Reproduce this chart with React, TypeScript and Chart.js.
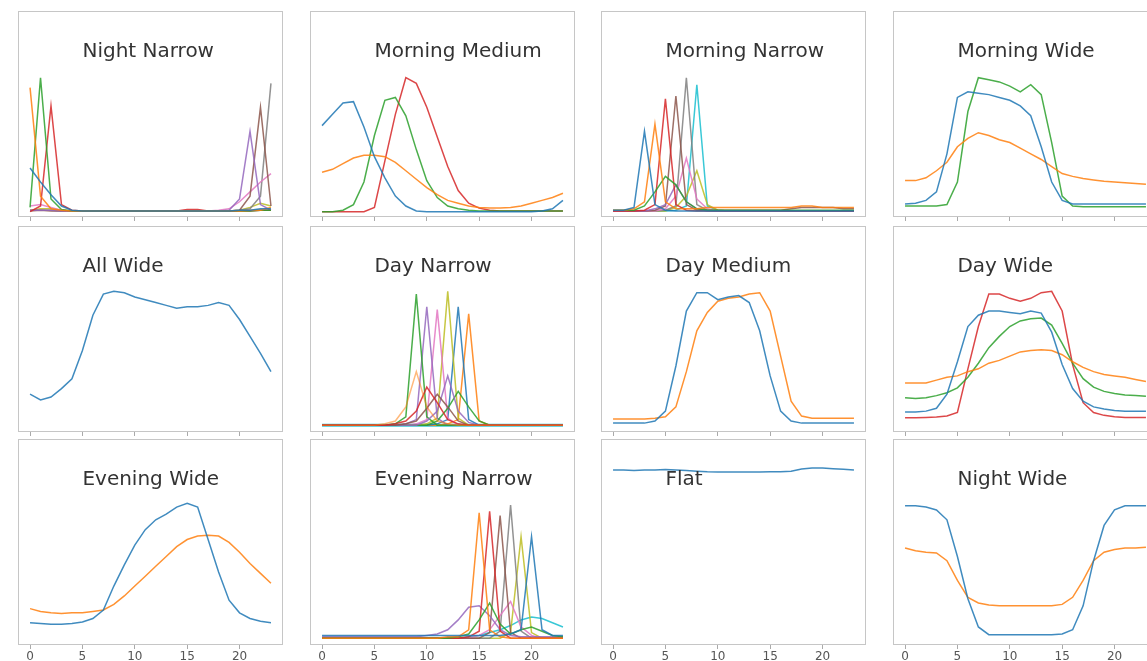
import React, { useEffect, useRef } from "react";
import { Chart, registerables } from "chart.js";
Chart.register(...registerables);

// ---------------- data ----------------
const hours = [0, 1, 2, 3, 4, 5, 6, 7, 8, 9, 10, 11, 12, 13, 14, 15, 16, 17, 18, 19, 20, 21, 22, 23];
const xTicks = [0, 5, 10, 15, 20];
const titleX = 5;

// Night Narrow
const nnBlue = [
  0.32, 0.22, 0.13, 0.05, 0.02, 0.015,
  0.015, 0.015, 0.015, 0.015, 0.015, 0.015,
  0.015, 0.015, 0.015, 0.015, 0.015, 0.015,
  0.015, 0.015, 0.02, 0.02, 0.03, 0.03,
];
const nnOrange = [
  0.89, 0.12, 0.03, 0.02, 0.015, 0.015,
  0.015, 0.015, 0.015, 0.015, 0.015, 0.015,
  0.015, 0.015, 0.015, 0.015, 0.015, 0.015,
  0.015, 0.015, 0.015, 0.02, 0.02, 0.04,
];
const nnGreen = [
  0.04, 0.96, 0.1, 0.025, 0.015, 0.015,
  0.015, 0.015, 0.015, 0.015, 0.015, 0.015,
  0.015, 0.015, 0.015, 0.015, 0.015, 0.015,
  0.015, 0.015, 0.015, 0.015, 0.02, 0.02,
];
const nnRed = [
  0.01, 0.05, 0.76, 0.06, 0.02, 0.015,
  0.015, 0.015, 0.015, 0.015, 0.015, 0.015,
  0.015, 0.015, 0.015, 0.025, 0.025, 0.015,
  0.015, 0.015, 0.015, 0.015, 0.02, 0.02,
];
const nnPurple = [
  0.02, 0.02, 0.02, 0.015, 0.015, 0.015,
  0.015, 0.015, 0.015, 0.015, 0.015, 0.015,
  0.015, 0.015, 0.015, 0.015, 0.015, 0.015,
  0.015, 0.02, 0.1, 0.58, 0.06, 0.02,
];
const nnBrown = [
  0.015, 0.02, 0.015, 0.015, 0.015, 0.015,
  0.015, 0.015, 0.015, 0.015, 0.015, 0.015,
  0.015, 0.015, 0.015, 0.015, 0.015, 0.015,
  0.015, 0.015, 0.02, 0.12, 0.75, 0.05,
];
const nnPink = [
  0.05, 0.06, 0.04, 0.02, 0.015, 0.015,
  0.015, 0.015, 0.015, 0.015, 0.015, 0.015,
  0.015, 0.015, 0.015, 0.015, 0.015, 0.015,
  0.02, 0.03, 0.08, 0.15, 0.22, 0.28,
];
const nnGray = [
  0.02, 0.02, 0.02, 0.015, 0.015, 0.015,
  0.015, 0.015, 0.015, 0.015, 0.015, 0.015,
  0.015, 0.015, 0.015, 0.015, 0.015, 0.015,
  0.015, 0.015, 0.02, 0.03, 0.12, 0.92,
];
const nnOlive = [
  0.02, 0.03, 0.03, 0.02, 0.015, 0.015,
  0.015, 0.015, 0.015, 0.015, 0.015, 0.015,
  0.015, 0.015, 0.015, 0.015, 0.015, 0.015,
  0.015, 0.015, 0.02, 0.04, 0.07, 0.05,
];

// Morning Medium
const mmBlue = [
  0.62, 0.7, 0.78, 0.79, 0.61, 0.4,
  0.25, 0.12, 0.05, 0.015, 0.01, 0.01,
  0.01, 0.01, 0.01, 0.01, 0.01, 0.01,
  0.01, 0.01, 0.01, 0.015, 0.03, 0.09,
];
const mmOrange = [
  0.29, 0.31, 0.35, 0.39, 0.41, 0.41,
  0.4, 0.36, 0.3, 0.24, 0.18, 0.13,
  0.09, 0.07, 0.05, 0.04, 0.035, 0.035,
  0.04, 0.05, 0.07, 0.09, 0.11, 0.14,
];
const mmGreen = [
  0.01, 0.01, 0.02, 0.06, 0.22, 0.55,
  0.8, 0.82, 0.69, 0.45, 0.23, 0.11,
  0.05, 0.03, 0.02, 0.015, 0.015, 0.015,
  0.015, 0.015, 0.015, 0.015, 0.015, 0.015,
];
const mmRed = [
  0.01, 0.01, 0.01, 0.01, 0.01, 0.04,
  0.37, 0.7, 0.96, 0.92, 0.75, 0.54,
  0.33, 0.16, 0.07, 0.035, 0.02, 0.015,
  0.015, 0.015, 0.015, 0.015, 0.015, 0.015,
];

// Morning Narrow
const mnBlue = [
  0.02, 0.02, 0.04, 0.58, 0.06, 0.02,
  0.015, 0.015, 0.015, 0.015, 0.015, 0.015,
  0.015, 0.015, 0.015, 0.015, 0.015, 0.015,
  0.015, 0.015, 0.015, 0.015, 0.015, 0.015,
];
const mnOrange = [
  0.02, 0.02, 0.03, 0.08, 0.63, 0.08,
  0.03, 0.03, 0.03, 0.04, 0.04, 0.04,
  0.04, 0.04, 0.04, 0.04, 0.04, 0.04,
  0.05, 0.05, 0.04, 0.04, 0.04, 0.04,
];
const mnGreen = [
  0.02, 0.02, 0.02, 0.05, 0.15, 0.26,
  0.2, 0.08, 0.03, 0.02, 0.02, 0.02,
  0.02, 0.02, 0.02, 0.02, 0.02, 0.02,
  0.02, 0.02, 0.02, 0.02, 0.02, 0.02,
];
const mnRed = [
  0.015, 0.015, 0.015, 0.02, 0.06, 0.81,
  0.06, 0.02, 0.015, 0.015, 0.015, 0.015,
  0.015, 0.015, 0.015, 0.015, 0.015, 0.015,
  0.015, 0.015, 0.015, 0.015, 0.015, 0.015,
];
const mnPurple = [
  0.015, 0.015, 0.015, 0.015, 0.03, 0.06,
  0.2, 0.08, 0.03, 0.015, 0.015, 0.015,
  0.015, 0.015, 0.015, 0.015, 0.015, 0.015,
  0.015, 0.015, 0.015, 0.015, 0.015, 0.015,
];
const mnBrown = [
  0.015, 0.015, 0.015, 0.015, 0.02, 0.05,
  0.83, 0.06, 0.02, 0.02, 0.02, 0.02,
  0.02, 0.02, 0.02, 0.02, 0.02, 0.03,
  0.04, 0.04, 0.04, 0.04, 0.03, 0.03,
];
const mnPink = [
  0.015, 0.015, 0.015, 0.015, 0.015, 0.03,
  0.12, 0.39, 0.1, 0.03, 0.015, 0.015,
  0.015, 0.015, 0.015, 0.015, 0.015, 0.015,
  0.015, 0.015, 0.015, 0.015, 0.015, 0.015,
];
const mnGray = [
  0.015, 0.015, 0.015, 0.015, 0.015, 0.02,
  0.05, 0.96, 0.06, 0.02, 0.015, 0.015,
  0.015, 0.015, 0.015, 0.015, 0.015, 0.015,
  0.015, 0.015, 0.015, 0.015, 0.015, 0.015,
];
const mnOlive = [
  0.015, 0.015, 0.015, 0.015, 0.015, 0.015,
  0.04, 0.12, 0.3, 0.06, 0.02, 0.015,
  0.015, 0.015, 0.015, 0.015, 0.015, 0.015,
  0.015, 0.015, 0.015, 0.015, 0.015, 0.015,
];
const mnCyan = [
  0.015, 0.015, 0.015, 0.015, 0.015, 0.015,
  0.02, 0.05, 0.91, 0.05, 0.02, 0.015,
  0.015, 0.015, 0.015, 0.015, 0.015, 0.015,
  0.015, 0.015, 0.015, 0.015, 0.015, 0.015,
];

// Morning Wide
const mwBlue = [
  0.065, 0.07, 0.09, 0.15, 0.42, 0.82,
  0.86, 0.85, 0.84, 0.82, 0.8, 0.76,
  0.69, 0.47, 0.22, 0.09, 0.065, 0.065,
  0.065, 0.065, 0.065, 0.065, 0.065, 0.065,
];
const mwOrange = [
  0.23, 0.23, 0.25, 0.3, 0.36, 0.47,
  0.53, 0.57, 0.55, 0.52, 0.5, 0.46,
  0.42, 0.38, 0.33, 0.28, 0.26, 0.245,
  0.235, 0.225, 0.22, 0.215, 0.21, 0.205,
];
const mwGreen = [
  0.05, 0.05, 0.05, 0.05, 0.06, 0.22,
  0.72, 0.96, 0.945, 0.93, 0.9, 0.86,
  0.91, 0.84, 0.5, 0.12, 0.05, 0.045,
  0.045, 0.045, 0.045, 0.045, 0.045, 0.045,
];

// All Wide
const awBlue = [
  0.24, 0.2, 0.22, 0.28, 0.35, 0.55,
  0.8, 0.95, 0.97, 0.96, 0.93, 0.91,
  0.89, 0.87, 0.85, 0.86, 0.86, 0.87,
  0.89, 0.87, 0.77, 0.65, 0.53, 0.4,
];

// Day Narrow
const dnGreen = [
  0.02, 0.02, 0.02, 0.02, 0.02, 0.02,
  0.02, 0.03, 0.08, 0.95, 0.08, 0.02,
  0.02, 0.02, 0.02, 0.02, 0.02, 0.02,
  0.02, 0.02, 0.02, 0.02, 0.02, 0.02,
];
const dnPurple = [
  0.02, 0.02, 0.02, 0.02, 0.02, 0.02,
  0.02, 0.02, 0.03, 0.06, 0.86, 0.07,
  0.02, 0.02, 0.02, 0.02, 0.02, 0.02,
  0.02, 0.02, 0.02, 0.02, 0.02, 0.02,
];
const dnPink = [
  0.02, 0.02, 0.02, 0.02, 0.02, 0.02,
  0.02, 0.02, 0.02, 0.03, 0.06, 0.84,
  0.07, 0.02, 0.02, 0.02, 0.02, 0.02,
  0.02, 0.02, 0.02, 0.02, 0.02, 0.02,
];
const dnOlive = [
  0.02, 0.02, 0.02, 0.02, 0.02, 0.02,
  0.02, 0.02, 0.02, 0.02, 0.03, 0.07,
  0.97, 0.07, 0.02, 0.02, 0.02, 0.02,
  0.02, 0.02, 0.02, 0.02, 0.02, 0.02,
];
const dnBlue = [
  0.02, 0.02, 0.02, 0.02, 0.02, 0.02,
  0.02, 0.02, 0.02, 0.02, 0.02, 0.03,
  0.06, 0.86, 0.06, 0.02, 0.02, 0.02,
  0.02, 0.02, 0.02, 0.02, 0.02, 0.02,
];
const dnOrange = [
  0.02, 0.02, 0.02, 0.02, 0.02, 0.02,
  0.02, 0.02, 0.02, 0.02, 0.02, 0.02,
  0.03, 0.06, 0.81, 0.05, 0.02, 0.02,
  0.02, 0.02, 0.02, 0.02, 0.02, 0.02,
];
const dnBump9 = [
  0.02, 0.02, 0.02, 0.02, 0.02, 0.02,
  0.03, 0.05, 0.15, 0.4, 0.15, 0.05,
  0.03, 0.02, 0.02, 0.02, 0.02, 0.02,
  0.02, 0.02, 0.02, 0.02, 0.02, 0.02,
];
const dnBump10 = [
  0.02, 0.02, 0.02, 0.02, 0.02, 0.02,
  0.02, 0.03, 0.05, 0.12, 0.29, 0.18,
  0.06, 0.03, 0.02, 0.02, 0.02, 0.02,
  0.02, 0.02, 0.02, 0.02, 0.02, 0.02,
];
const dnBump11 = [
  0.02, 0.02, 0.02, 0.02, 0.02, 0.02,
  0.02, 0.02, 0.03, 0.05, 0.14, 0.24,
  0.15, 0.05, 0.02, 0.02, 0.02, 0.02,
  0.02, 0.02, 0.02, 0.02, 0.02, 0.02,
];
const dnBump12 = [
  0.02, 0.02, 0.02, 0.02, 0.02, 0.02,
  0.02, 0.02, 0.02, 0.02, 0.05, 0.12,
  0.37, 0.12, 0.04, 0.02, 0.02, 0.02,
  0.02, 0.02, 0.02, 0.02, 0.02, 0.02,
];
const dnBump13 = [
  0.02, 0.02, 0.02, 0.02, 0.02, 0.02,
  0.02, 0.02, 0.02, 0.02, 0.02, 0.05,
  0.14, 0.26, 0.15, 0.05, 0.02, 0.02,
  0.02, 0.02, 0.02, 0.02, 0.02, 0.02,
];
const dnBase = [
  0.02, 0.02, 0.02, 0.02, 0.02, 0.02,
  0.02, 0.02, 0.02, 0.02, 0.02, 0.02,
  0.02, 0.02, 0.02, 0.02, 0.02, 0.02,
  0.02, 0.02, 0.02, 0.02, 0.02, 0.02,
];

// Day Medium
const dmBlue = [
  0.035, 0.035, 0.035, 0.035, 0.05, 0.12,
  0.44, 0.83, 0.96, 0.96, 0.91, 0.93,
  0.94, 0.89, 0.69, 0.37, 0.12, 0.05,
  0.035, 0.035, 0.035, 0.035, 0.035, 0.035,
];
const dmOrange = [
  0.065, 0.065, 0.065, 0.065, 0.07, 0.08,
  0.15, 0.4, 0.69, 0.82, 0.9, 0.92,
  0.93, 0.95, 0.96, 0.83, 0.51, 0.19,
  0.085, 0.07, 0.07, 0.07, 0.07, 0.07,
];

// Day Wide
const dwOrange = [
  0.32, 0.32, 0.32, 0.34, 0.36, 0.37,
  0.4, 0.42, 0.46, 0.48, 0.51, 0.54,
  0.55, 0.555, 0.55, 0.52, 0.47, 0.43,
  0.4, 0.38, 0.37, 0.36, 0.345, 0.33,
];
const dwGreen = [
  0.215, 0.21, 0.215, 0.23, 0.25, 0.285,
  0.36, 0.46, 0.57, 0.65, 0.72, 0.76,
  0.775, 0.78, 0.73, 0.6, 0.46, 0.35,
  0.29, 0.26, 0.245, 0.235, 0.23, 0.225,
];
const dwBlue = [
  0.113, 0.113, 0.12, 0.14, 0.24, 0.47,
  0.72, 0.8, 0.83, 0.83, 0.82, 0.81,
  0.83, 0.815, 0.68, 0.45, 0.28, 0.19,
  0.15, 0.135, 0.125, 0.12, 0.12, 0.12,
];
const dwRed = [
  0.073, 0.073, 0.075, 0.078, 0.085, 0.11,
  0.42, 0.72, 0.95, 0.95, 0.92, 0.9,
  0.92, 0.96, 0.97, 0.83, 0.45, 0.18,
  0.11, 0.09, 0.08, 0.075, 0.075, 0.075,
];

// Evening Wide
const ewBlue = [
  0.13, 0.125, 0.12, 0.12, 0.125, 0.135,
  0.16, 0.22, 0.39, 0.54, 0.68, 0.79,
  0.86, 0.9, 0.95, 0.977, 0.95, 0.72,
  0.49, 0.29, 0.2, 0.16, 0.14, 0.13,
];
const ewOrange = [
  0.23, 0.21, 0.2, 0.195, 0.2, 0.2,
  0.21, 0.22, 0.26, 0.32, 0.39, 0.46,
  0.53, 0.6, 0.67, 0.72, 0.745, 0.75,
  0.745, 0.7, 0.63, 0.55, 0.48, 0.41,
];

// Evening Narrow
const enOrange = [
  0.02, 0.02, 0.02, 0.02, 0.02, 0.02,
  0.02, 0.02, 0.02, 0.02, 0.02, 0.02,
  0.03, 0.03, 0.08, 0.91, 0.08, 0.03,
  0.02, 0.02, 0.02, 0.02, 0.02, 0.02,
];
const enRed = [
  0.02, 0.02, 0.02, 0.02, 0.02, 0.02,
  0.02, 0.02, 0.02, 0.02, 0.02, 0.02,
  0.02, 0.02, 0.03, 0.07, 0.92, 0.07,
  0.02, 0.02, 0.02, 0.02, 0.02, 0.02,
];
const enBrown = [
  0.02, 0.02, 0.02, 0.02, 0.02, 0.02,
  0.02, 0.02, 0.02, 0.02, 0.02, 0.02,
  0.02, 0.02, 0.02, 0.02, 0.06, 0.89,
  0.06, 0.02, 0.02, 0.02, 0.02, 0.02,
];
const enGray = [
  0.02, 0.02, 0.02, 0.02, 0.02, 0.02,
  0.02, 0.02, 0.02, 0.02, 0.02, 0.02,
  0.02, 0.02, 0.02, 0.02, 0.02, 0.07,
  0.965, 0.07, 0.02, 0.02, 0.02, 0.02,
];
const enOlive = [
  0.02, 0.02, 0.02, 0.02, 0.02, 0.02,
  0.02, 0.02, 0.02, 0.02, 0.02, 0.02,
  0.02, 0.02, 0.02, 0.02, 0.02, 0.02,
  0.06, 0.74, 0.06, 0.02, 0.02, 0.02,
];
const enBlue = [
  0.04, 0.04, 0.04, 0.04, 0.04, 0.04,
  0.04, 0.04, 0.04, 0.04, 0.04, 0.04,
  0.04, 0.04, 0.04, 0.04, 0.04, 0.04,
  0.05, 0.08, 0.74, 0.08, 0.04, 0.04,
];
const enPurple = [
  0.03, 0.03, 0.03, 0.03, 0.03, 0.03,
  0.03, 0.03, 0.03, 0.03, 0.04, 0.05,
  0.08, 0.15, 0.24, 0.25, 0.18, 0.08,
  0.04, 0.03, 0.03, 0.03, 0.03, 0.03,
];
const enGreen = [
  0.02, 0.02, 0.02, 0.02, 0.02, 0.02,
  0.02, 0.02, 0.02, 0.02, 0.02, 0.02,
  0.02, 0.03, 0.05, 0.15, 0.27, 0.12,
  0.05, 0.08, 0.1, 0.07, 0.04, 0.03,
];
const enPink = [
  0.02, 0.02, 0.02, 0.02, 0.02, 0.02,
  0.02, 0.02, 0.02, 0.02, 0.02, 0.02,
  0.02, 0.02, 0.02, 0.04, 0.08, 0.18,
  0.28, 0.1, 0.04, 0.02, 0.02, 0.02,
];
const enCyan = [
  0.02, 0.02, 0.02, 0.02, 0.02, 0.02,
  0.02, 0.02, 0.02, 0.02, 0.02, 0.02,
  0.02, 0.02, 0.03, 0.04, 0.06, 0.08,
  0.11, 0.15, 0.17, 0.16, 0.13, 0.1,
];

// Flat
const flBlue = [
  1.213, 1.213, 1.21, 1.213, 1.213, 1.216,
  1.213, 1.21, 1.205, 1.2, 1.199, 1.199,
  1.199, 1.199, 1.199, 1.2, 1.2, 1.205,
  1.22, 1.227, 1.227, 1.222, 1.218, 1.213,
];

// Night Wide
const nwBlue = [
  0.96, 0.96, 0.95, 0.93, 0.86, 0.6,
  0.3, 0.1, 0.045, 0.045, 0.045, 0.045,
  0.045, 0.045, 0.045, 0.05, 0.08, 0.25,
  0.57, 0.82, 0.93, 0.96, 0.96, 0.96,
];
const nwOrange = [
  0.66, 0.64, 0.63, 0.625, 0.57, 0.43,
  0.31, 0.27, 0.255, 0.25, 0.25, 0.25,
  0.25, 0.25, 0.25, 0.26, 0.31, 0.43,
  0.57, 0.63, 0.65, 0.66, 0.66, 0.665,
];

// ---------------- styling ----------------
const COLORS: Record<string, string> = {
  blue: "#1f77b4",
  orange: "#ff7f0e",
  green: "#2ca02c",
  red: "#d62728",
  purple: "#9467bd",
  brown: "#8c564b",
  pink: "#e377c2",
  gray: "#7f7f7f",
  olive: "#bcbd22",
  cyan: "#17becf",
};

type Series = { data: number[]; color: string; width?: number; alpha?: number };
type PanelDef = { title: string; row: number; col: number; series: Series[] };

const s = (data: number[], color: string, width?: number, alpha?: number): Series => ({ data, color, width, alpha });

const panels: PanelDef[] = [
  {
    title: "Night Narrow", row: 0, col: 0,
    series: [s(nnBlue, "blue"), s(nnOrange, "orange"), s(nnGreen, "green"), s(nnRed, "red"), s(nnPurple, "purple"),
      s(nnBrown, "brown"), s(nnPink, "pink"), s(nnGray, "gray"), s(nnOlive, "olive")],
  },
  {
    title: "Morning Medium", row: 0, col: 1,
    series: [s(mmBlue, "blue"), s(mmOrange, "orange"), s(mmGreen, "green"), s(mmRed, "red")],
  },
  {
    title: "Morning Narrow", row: 0, col: 2,
    series: [s(mnBlue, "blue"), s(mnOrange, "orange"), s(mnGreen, "green"), s(mnRed, "red"), s(mnPurple, "purple"),
      s(mnBrown, "brown"), s(mnPink, "pink"), s(mnGray, "gray"), s(mnOlive, "olive"), s(mnCyan, "cyan")],
  },
  {
    title: "Morning Wide", row: 0, col: 3,
    series: [s(mwBlue, "blue"), s(mwOrange, "orange"), s(mwGreen, "green")],
  },
  { title: "All Wide", row: 1, col: 0, series: [s(awBlue, "blue")] },
  {
    title: "Day Narrow", row: 1, col: 1,
    series: [s(dnBump9, "orange", 1.5, 0.55), s(dnBump10, "red"), s(dnBump11, "brown"), s(dnBump12, "purple"), s(dnBump13, "green"),
      s(dnGreen, "green"), s(dnPurple, "purple"), s(dnPink, "pink"), s(dnOlive, "olive"), s(dnBlue, "blue"), s(dnOrange, "orange"),
      s(dnBase, "cyan", 3)],
  },
  { title: "Day Medium", row: 1, col: 2, series: [s(dmBlue, "blue"), s(dmOrange, "orange")] },
  {
    title: "Day Wide", row: 1, col: 3,
    series: [s(dwBlue, "blue"), s(dwOrange, "orange"), s(dwGreen, "green"), s(dwRed, "red")],
  },
  { title: "Evening Wide", row: 2, col: 0, series: [s(ewBlue, "blue"), s(ewOrange, "orange")] },
  {
    title: "Evening Narrow", row: 2, col: 1,
    series: [s(enBlue, "blue"), s(enOrange, "orange"), s(enGreen, "green"), s(enRed, "red"), s(enPurple, "purple"),
      s(enBrown, "brown"), s(enPink, "pink"), s(enGray, "gray"), s(enOlive, "olive"), s(enCyan, "cyan")],
  },
  { title: "Flat", row: 2, col: 2, series: [s(flBlue, "blue")] },
  { title: "Night Wide", row: 2, col: 3, series: [s(nwBlue, "blue"), s(nwOrange, "orange")] },
];

const colLeft = [18, 310, 601, 893];
const rowTop = [11, 226, 439];
const PANEL_W = 265;
const PANEL_H = 206;
const AXIS_H = 22;

function rgba(hex: string, a: number) {
  const n = parseInt(hex.slice(1), 16);
  return `rgba(${(n >> 16) & 255},${(n >> 8) & 255},${n & 255},${a})`;
}

function Panel({ p }: { p: PanelDef }) {
  const ref = useRef<HTMLCanvasElement>(null);
  useEffect(() => {
    const canvas = ref.current;
    if (!canvas) return;
    const bottomRow = p.row === 2;
    const frame = {
      id: "frame",
      afterDatasetsDraw(chart: any) {
        const { ctx, chartArea: a, scales } = chart;
        ctx.save();
        ctx.strokeStyle = "#c6c6c6";
        ctx.lineWidth = 1;
        ctx.strokeRect(a.left + 0.5, a.top + 0.5, a.right - a.left - 1, a.bottom - a.top - 1);
        ctx.fillStyle = "#333333";
        ctx.font = '20px "DejaVu Sans"';
        ctx.textAlign = "left";
        ctx.textBaseline = "alphabetic";
        ctx.fillText(p.title, scales.x.getPixelForValue(titleX), a.top + 46);
        ctx.restore();
      },
    };
    const chart = new Chart(canvas, {
      type: "line",
      data: {
        datasets: p.series.map((sr) => ({
          data: hours.map((h, i) => ({ x: h, y: sr.data[i] })),
          borderColor: rgba(COLORS[sr.color], sr.alpha ?? 0.85),
          borderWidth: sr.width ?? 1.5,
          pointRadius: 0,
          fill: false,
          tension: 0,
        })),
      },
      options: {
        responsive: false,
        animation: false,
        devicePixelRatio: 1,
        events: [],
        layout: { padding: { left: 1, right: 1, top: 1, bottom: 0 } },
        plugins: { legend: { display: false }, tooltip: { enabled: false }, title: { display: false } },
        scales: {
          x: {
            type: "linear",
            min: -1.15,
            max: 24.15,
            afterBuildTicks: (sc: any) => {
              sc.ticks = xTicks.map((v) => ({ value: v }));
            },
            afterFit: (sc: any) => {
              sc.height = AXIS_H;
            },
            grid: { display: true, drawOnChartArea: false, drawTicks: true, tickLength: 4, color: "#aaaaaa", tickColor: "#aaaaaa" },
            border: { display: false },
            ticks: {
              display: bottomRow,
              color: "#555555",
              font: { family: "DejaVu Sans", size: 12 },
              padding: 1,
              maxRotation: 0,
              autoSkip: false,
            },
          },
          y: { display: false, min: -0.028, max: 1.433 },
        },
      } as any,
      plugins: [frame],
    });
    return () => chart.destroy();
  }, [p]);
  const w = PANEL_W + 2;
  const h = PANEL_H + 1 + AXIS_H;
  return (
    <canvas
      ref={ref}
      width={w}
      height={h}
      style={{ position: "absolute", left: colLeft[p.col] - 1, top: rowTop[p.row] - 1, width: w, height: h }}
    />
  );
}

export default function App() {
  return (
    <div
      style={{ position: "absolute", left: 0, top: 0, width: 1147, height: 661, overflow: "hidden", background: "#ffffff" }}
    >
      {panels.map((p) => (
        <Panel key={p.title} p={p} />
      ))}
    </div>
  );
}
